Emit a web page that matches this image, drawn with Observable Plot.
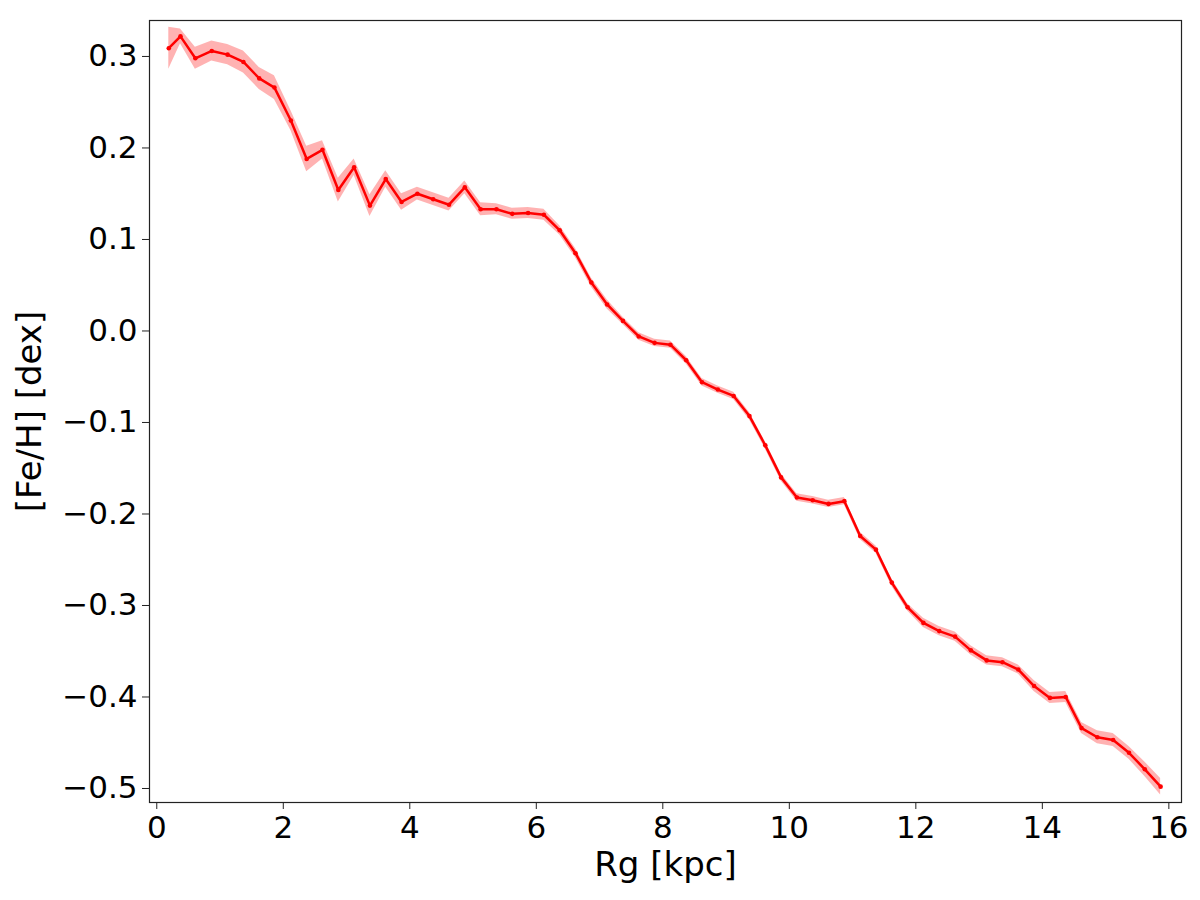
<!DOCTYPE html>
<html>
<head>
<meta charset="utf-8">
<script src="https://cdn.jsdelivr.net/npm/d3@7"></script>
<script src="https://cdn.jsdelivr.net/npm/@observablehq/plot@0.6"></script>
<style>
  html, body { margin: 0; padding: 0; background: #fff; }
  #chart svg { display: block; }
</style>
</head>
<body>
<div id="chart"></div>
<script>
// Guiding-radius bins (kpc)
const rg = [0.19, 0.375, 0.61, 0.87, 1.12, 1.37, 1.62, 1.86, 2.12, 2.37, 2.62, 2.87, 3.12, 3.37, 3.62, 3.87,
  4.12, 4.37, 4.62, 4.87, 5.12, 5.37, 5.62, 5.87, 6.12, 6.37, 6.62, 6.87, 7.12, 7.37, 7.62, 7.87,
  8.12, 8.37, 8.62, 8.87, 9.12, 9.37, 9.62, 9.87, 10.12, 10.37, 10.62, 10.87, 11.12, 11.37, 11.62, 11.87,
  12.12, 12.37, 12.62, 12.87, 13.12, 13.37, 13.62, 13.87, 14.12, 14.37, 14.62, 14.87, 15.12, 15.37, 15.62, 15.87];
// Mean [Fe/H] (dex)
const feh = [0.309, 0.322, 0.298, 0.306, 0.302, 0.294, 0.276, 0.266, 0.230, 0.188, 0.198, 0.154, 0.179, 0.137, 0.166, 0.141,
  0.150, 0.144, 0.138, 0.157, 0.133, 0.133, 0.128, 0.129, 0.127, 0.110, 0.085, 0.053, 0.029, 0.011, -0.006, -0.013,
  -0.015, -0.032, -0.056, -0.064, -0.071, -0.093, -0.125, -0.160, -0.182, -0.185, -0.189, -0.186, -0.224, -0.239, -0.275, -0.302,
  -0.319, -0.328, -0.334, -0.349, -0.360, -0.362, -0.370, -0.388, -0.401, -0.400, -0.434, -0.444, -0.447, -0.461, -0.479, -0.498];
// Uncertainty (half-width of shaded band, dex)
const err = [0.023, 0.008, 0.012, 0.011, 0.011, 0.012, 0.012, 0.013, 0.011, 0.014, 0.010, 0.013, 0.009, 0.012, 0.009, 0.009,
  0.007, 0.007, 0.007, 0.007, 0.007, 0.006, 0.006, 0.006, 0.006, 0.005, 0.005, 0.005, 0.005, 0.004, 0.004, 0.004,
  0.004, 0.004, 0.004, 0.004, 0.004, 0.004, 0.004, 0.004, 0.004, 0.004, 0.004, 0.004, 0.004, 0.004, 0.004, 0.004,
  0.005, 0.005, 0.005, 0.005, 0.005, 0.005, 0.005, 0.006, 0.006, 0.006, 0.006, 0.007, 0.007, 0.007, 0.008, 0.009];

const xTicks = [0, 2, 4, 6, 8, 10, 12, 14, 16];
const yTicks = [-0.5, -0.4, -0.3, -0.2, -0.1, 0.0, 0.1, 0.2, 0.3];
const xLabel = "Rg [kpc]";
const yLabel = "[Fe/H] [dex]";

const data = rg.map((r, i) => ({rg: r, feh: feh[i], lo: feh[i] - err[i], hi: feh[i] + err[i]}));
const fmt = d3.format(".1f");

const chart = Plot.plot({
  width: 1200,
  height: 900,
  marginLeft: 149,
  marginRight: 19,
  marginTop: 20,
  marginBottom: 98,
  style: {fontFamily: "'DejaVu Sans', sans-serif", fontSize: "30px", color: "#000", background: "#fff"},
  x: {domain: [-0.115, 16.2]},
  y: {domain: [-0.5153, 0.3393]},
  marks: [
    Plot.areaY(data, {x: "rg", y1: "lo", y2: "hi", fill: "red", fillOpacity: 0.3}),
    Plot.line(data, {x: "rg", y: "feh", stroke: "red", strokeWidth: 2.5}),
    Plot.dot(data, {x: "rg", y: "feh", r: 2.3, fill: "red", stroke: "none"}),
    Plot.frame({stroke: "#222", strokeWidth: 1.2}),
    Plot.axisX({ticks: xTicks, tickFormat: d => String(d), tickSize: 7, tickPadding: 6, fontSize: 31, label: null, stroke: "#222"}),
    Plot.axisY({ticks: yTicks, tickFormat: fmt, tickSize: 7, tickPadding: 5, fontSize: 31, label: null, stroke: "#222"}),
    Plot.text([xLabel], {frameAnchor: "bottom", dy: 73, fontSize: 34, fill: "#000", textAnchor: "middle"}),
    Plot.text([yLabel], {frameAnchor: "left", dx: -119, rotate: -90, fontSize: 34, fill: "#000", textAnchor: "middle"})
  ]
});
document.getElementById("chart").appendChild(chart);
</script>
</body>
</html>
